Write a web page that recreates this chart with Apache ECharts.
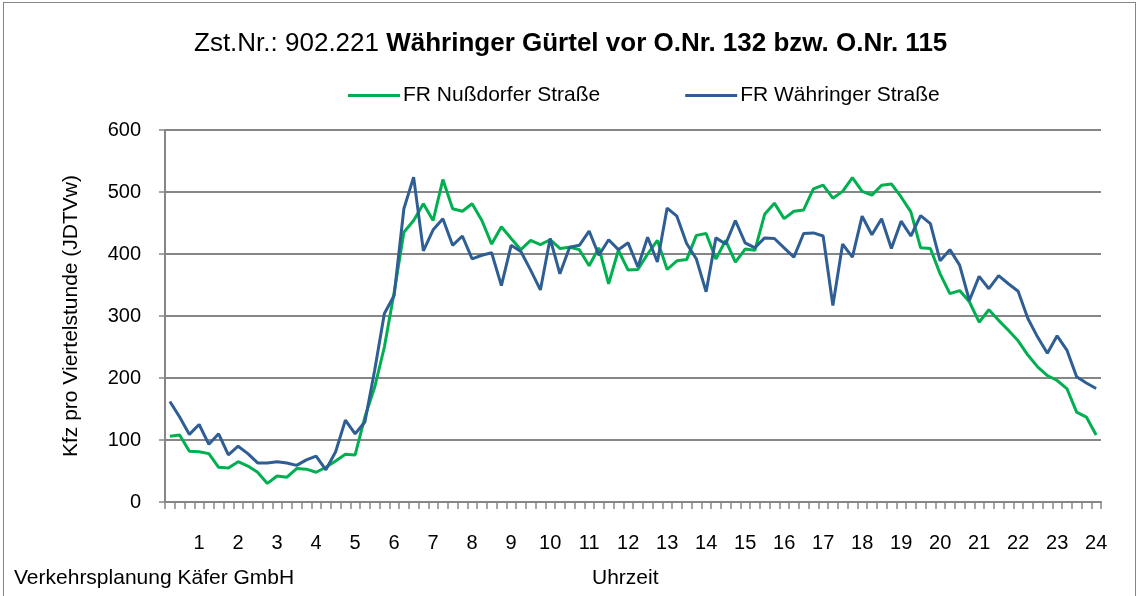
<!DOCTYPE html>
<html>
<head>
<meta charset="utf-8">
<script src="https://cdn.jsdelivr.net/npm/echarts@6/dist/echarts.min.js"></script>
<style>
  html, body { margin: 0; padding: 0; background: #fff; }
  #frame { position: absolute; left: 3px; top: 2px; width: 1133px; height: 600px; border: 1.5px solid #868686; box-sizing: border-box; }
  #chart { position: absolute; left: 0; top: 0; width: 1139px; height: 596px; }
</style>
</head>
<body>
<div id="frame"></div>
<div id="chart"></div>
<script>
// Stundenbeschriftung der x-Achse
var hours = ['1','2','3','4','5','6','7','8','9','10','11','12',
             '13','14','15','16','17','18','19','20','21','22','23','24'];

// Kfz pro Viertelstunde, 96 Werte (0:15 bis 24:00)
var nussdorfer = [106,108,82,81,78,56,55,65,58,48,30,42,40,54,53,48,56,66,77,76,
                  137,185,250,338,435,454,481,454,520,473,469,481,454,416,444,425,407,422,415,423,
                  409,411,407,381,410,352,406,374,375,400,422,375,389,391,430,433,392,422,387,408,
                  406,464,482,457,469,471,505,511,490,501,523,501,495,511,513,492,468,410,409,368,
                  336,341,323,290,310,293,277,260,237,218,204,196,183,145,137,108];

var waehringer = [162,137,109,125,93,110,76,90,78,63,63,65,63,59,68,74,52,81,132,110,
                  129,212,304,333,473,524,405,439,457,414,429,392,398,402,349,414,404,374,342,425,
                  368,411,414,437,398,423,407,418,379,427,387,474,461,417,392,339,426,416,454,418,
                  410,426,425,410,395,433,434,429,317,416,395,461,431,457,409,453,429,462,449,389,
                  407,382,325,364,344,365,352,340,296,266,240,268,245,202,192,183];

var categories = [];
for (var i = 0; i < 96; i++) {
    categories.push(i % 4 === 3 ? hours[(i - 3) / 4] : '');
}

var myChart = echarts.init(document.getElementById('chart'));
var font = '"Liberation Sans", Arial, sans-serif';
var Option = {
    animation: false,
    textStyle: { fontFamily: font, color: '#000' },
    title: {
        text: '{n|Zst.Nr.: 902.221 }{b|Währinger Gürtel vor O.Nr. 132 bzw. O.Nr. 115}',
        left: 189,
        top: 26,
        textStyle: {
            rich: {
                n: { fontFamily: font, fontSize: 26, fontWeight: 'normal', color: '#000' },
                b: { fontFamily: font, fontSize: 26, fontWeight: 'bold', color: '#000' }
            }
        }
    },
    legend: {
        left: 343,
        top: 80,
        icon: 'rect',
        itemWidth: 52,
        itemHeight: 3,
        itemGap: 85,
        textStyle: { fontFamily: font, fontSize: 21, color: '#000', padding: [0, 0, 0, -2] },
        data: ['FR Nußdorfer Straße', 'FR Währinger Straße']
    },
    grid: {
        left: 165,
        right: 38,
        top: 130,
        bottom: 94
    },
    xAxis: {
        type: 'category',
        boundaryGap: true,
        data: categories,
        axisLine: { lineStyle: { color: '#868686', width: 2 } },
        axisTick: { show: true, interval: 0, length: 7, lineStyle: { color: '#868686', width: 1.5 } },
        axisLabel: { interval: 0, margin: 31, fontSize: 20, color: '#000', fontFamily: font },
        splitLine: { show: false }
    },
    yAxis: {
        type: 'value',
        min: 0,
        max: 600,
        interval: 100,
        name: 'Kfz pro Viertelstunde (JDTVw)',
        nameLocation: 'middle',
        nameGap: 83,
        nameTextStyle: { fontFamily: font, fontSize: 21, color: '#000' },
        axisLine: { show: true, lineStyle: { color: '#868686', width: 2 } },
        axisTick: { show: true, length: 6, lineStyle: { color: '#868686', width: 1.5 } },
        axisLabel: { margin: 24, fontSize: 20, color: '#000', fontFamily: font },
        splitLine: { lineStyle: { color: '#868686', width: 2 } }
    },
    graphic: [{
        type: 'text',
        left: 14,
        top: 568,
        style: { text: 'Verkehrsplanung Käfer GmbH', fontFamily: font, fontSize: 21, fill: '#000' }
    }, {
        type: 'text',
        left: 592,
        top: 568,
        style: { text: 'Uhrzeit', fontFamily: font, fontSize: 21, fill: '#000' }
    }],
    series: [{
        name: 'FR Nußdorfer Straße',
        type: 'line',
        symbol: 'none',
        color: '#00B050',
        lineStyle: { width: 3, color: '#00B050' },
        data: nussdorfer
    }, {
        name: 'FR Währinger Straße',
        type: 'line',
        symbol: 'none',
        color: '#2E5E94',
        lineStyle: { width: 3, color: '#2E5E94' },
        data: waehringer
    }]
};
myChart.setOption(Option);
</script>
</body>
</html>
